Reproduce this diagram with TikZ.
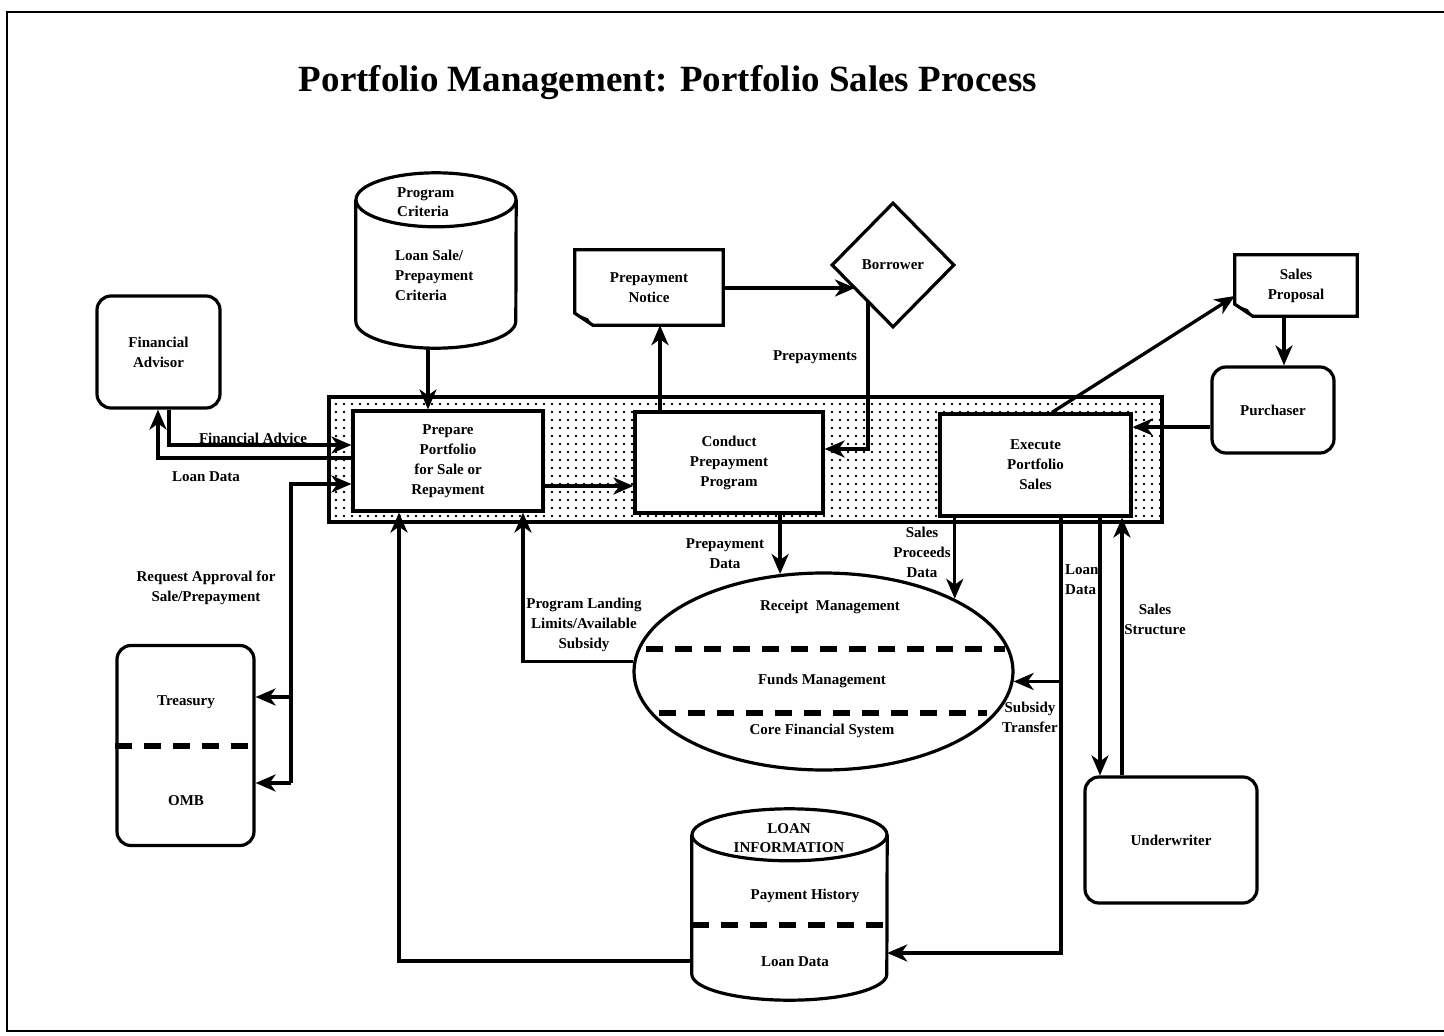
\documentclass[tikz,border=0pt]{standalone}
\usepackage{fontspec}
\setmainfont{Liberation Serif}
\usetikzlibrary{shapes.geometric,arrows.meta,patterns.meta,calc}
\newcommand\diaglbl{\fontsize{15}{20}\selectfont\bfseries}
\begin{document}
\begin{tikzpicture}[x=1pt,y=-1pt,
  box/.style={draw, line width=3.2pt, fill=white, align=center, inner sep=0, font=\diaglbl},
  rbox/.style={box, rounded corners=14pt},
  lbl/.style={font=\diaglbl, align=center, inner sep=0},
  conn/.style={line width=3.3pt},
  arr/.style={-{Stealth[length=20pt,width=17pt,inset=6pt]}},
  outl/.style={line width=3.2pt, line join=miter},
  dashsep/.style={line width=5.5pt, dash pattern=on 17pt off 12pt}]
\useasboundingbox (0,0) rectangle (1444,1036);
% frame
\draw[line width=1.8pt] (1444,12) -- (7,12) -- (7,1031) -- (1444,1031);
% title
\node[font=\fontsize{37}{44}\selectfont\bfseries, inner sep=0] (title) at (668,83) {Portfolio Management: Portfolio Sales Process};
% shaded band
\node[draw, line width=3.2pt, pattern={Dots[distance=8pt,radius=1.4pt]}, minimum width=833pt, minimum height=125pt, inner sep=0] (band) at (745.5,459.5) {};
% process boxes
\node[box, minimum width=190pt, minimum height=100pt] (prep) at (448,461) {Prepare\\Portfolio\\for Sale or\\Repayment};
\node[box, minimum width=188pt, minimum height=101pt] (cond) at (729,462.5) {Conduct\\Prepayment\\Program};
\node[box, minimum width=191pt, minimum height=102pt] (exec) at (1035.5,465) {Execute\\Portfolio\\Sales};
% external entities
\node[rbox, minimum width=123pt, minimum height=112pt] (fa) at (158.5,352) {Financial\\Advisor};
\node[rbox, minimum width=137pt, minimum height=200pt] (tob) at (185.5,745.5) {};
\draw[dashsep] (tob.west |- 0,746) -- (tob.east |- 0,746);
\node[lbl] (treas) at (186,702) {Treasury};
\node[lbl] (omb) at (186,801) {OMB};
\node[rbox, minimum width=122pt, minimum height=86pt] (pur) at (1273,410) {Purchaser};
\node[rbox, minimum width=172pt, minimum height=126pt] (uw) at (1171,840) {Underwriter};
\node[box, diamond, aspect=1, minimum width=123pt, minimum height=125pt] (bor) at (893,265) {Borrower};
% documents
\node[lbl, minimum width=148pt, minimum height=75pt] (pn) at (649,287.5) {Prepayment\\Notice};
\draw[outl] ($(pn.south west)+(0,-12)$) -- (pn.north west) -- (pn.north east) -- (pn.south east) -- ($(pn.south west)+(18,0)$) -- cycle;
\fill ($(pn.south west)+(0,-12)$) -- ($(pn.south west)+(13,-7)$) -- ($(pn.south west)+(18,0)$) -- cycle;
\node[lbl, minimum width=122pt, minimum height=61pt] (sp) at (1296,285.5) {Sales\\Proposal};
\draw[outl] ($(sp.south west)+(0,-12)$) -- (sp.north west) -- (sp.north east) -- (sp.south east) -- ($(sp.south west)+(18,0)$) -- cycle;
\fill ($(sp.south west)+(0,-12)$) -- ($(sp.south west)+(13,-7)$) -- ($(sp.south west)+(18,0)$) -- cycle;
% program criteria cylinder
\node[lbl, minimum width=160pt, minimum height=175pt] (pc) at (436,260.5) {};
\draw[outl] ($(pc.north west)+(0,27)$) -- ($(pc.south west)+(0,-27)$) arc[start angle=180,end angle=360,x radius=80pt,y radius=27pt] -- ($(pc.north east)+(0,27)$);
\draw[outl] ($(pc.north)+(0,27)$) ellipse[x radius=80pt,y radius=27pt];
\node[lbl, anchor=west, align=left, font=\fontsize{15}{19}\selectfont\bfseries] (pct) at (397,202.5) {Program\\Criteria};
\node[lbl, anchor=west, align=left] (pcb) at (395,275) {Loan Sale/\\Prepayment\\Criteria};
% loan information cylinder
\node[lbl, minimum width=195pt, minimum height=191pt] (li) at (789.5,904.5) {};
\draw[outl] ($(li.north west)+(0,26)$) -- ($(li.south west)+(0,-26)$) arc[start angle=180,end angle=360,x radius=97.5pt,y radius=26pt] -- ($(li.north east)+(0,26)$);
\draw[outl] ($(li.north)+(0,26)$) ellipse[x radius=97.5pt,y radius=26pt];
\node[lbl, font=\fontsize{15}{19}\selectfont\bfseries] (lit) at (789,838.5) {LOAN\\INFORMATION};
\node[lbl] (liph) at (805,896) {Payment History};
\draw[dashsep] (li.west |- 0,925) -- (li.east |- 0,925);
\node[lbl] (lild) at (795,962) {Loan Data};
% receipt management ellipse
\node[draw, ellipse, line width=3.2pt, minimum width=379pt, minimum height=197pt, inner sep=0] (rm) at (823.5,671.5) {};
\node[lbl] (rmr) at (830,607) {Receipt\ \ Management};
\node[lbl] (rmf) at (822,681) {Funds Management};
\node[lbl] (rmc) at (822,731) {Core Financial System};
\draw[dashsep] (646,649) -- (1005,649);
\draw[dashsep] (659,713) -- (987,713);
% connectors
\coordinate (fax) at (169,445);
\draw[conn,arr] (fa.south -| fax) -- (fax) -- (prep.west |- fax);
\coordinate (ldx) at (158,458);
\draw[conn,arr] (prep.west |- ldx) -- (ldx) -- (fa.south -| ldx);
\coordinate (rqtop) at (291,484);
\coordinate (rqt) at (291,697);
\coordinate (rqo) at (291,783);
\draw[conn,arr] (rqo) -- (rqtop) -- (prep.west |- rqtop);
\draw[conn,arr] (rqt) -- (tob.east |- rqt);
\draw[conn,arr] (rqo) -- (tob.east |- rqo);
\coordinate (pcx) at (428,0);
\draw[conn,arr] (pc.south -| pcx) -- (prep.north -| pcx);
\coordinate (pcy) at (0,486);
\draw[conn,arr] (prep.east |- pcy) -- (cond.west |- pcy);
\coordinate (pnx) at (660,0);
\draw[conn,arr] (cond.north -| pnx) -- (pn.south -| pnx);
\coordinate (pnb) at (855,288);
\draw[conn,arr] (pn.east |- pnb) -- (pnb);
\coordinate (bp) at (868,301);
\coordinate (bpc) at (868,449);
\draw[conn,arr] (bp) -- (bpc) -- (cond.east |- bpc);
\coordinate (exs) at (1052,0);
\coordinate (spy) at (0,296);
\draw[conn,arr] (exec.north -| exs) -- (sp.west |- spy);
\coordinate (spx) at (1284,0);
\draw[conn,arr] (sp.south -| spx) -- (pur.north -| spx);
\coordinate (pury) at (0,427);
\draw[conn,arr] (pur.west |- pury) -- (exec.east |- pury);
\draw[conn,arr] (cond.south -| rm.114) -- (rm.114);
\draw[conn,arr] (exec.south -| rm.29) -- (rm.29);
\coordinate (pll) at (523,0);
\draw[conn,arr] (rm.177) -- (pll |- rm.177) -- (prep.south -| pll);
\coordinate (lix) at (399,961);
\draw[conn,arr] (li.west |- lix) -- (lix) -- (prep.south -| lix);
\coordinate (subx) at (1061,953);
\draw[conn,arr] (exec.south -| subx) -- (subx) -- (li.east |- subx);
\draw[conn,arr] (subx |- rm.-3) -- (rm.-3);
\coordinate (ldu) at (1100,0);
\draw[conn,arr] (exec.south -| ldu) -- (uw.north -| ldu);
\coordinate (ssu) at (1122,0);
\draw[conn,arr] (uw.north -| ssu) -- (exec.south -| ssu);
% connector labels
\node[lbl] (lfa) at (253,438) {Financial Advice};
\node[lbl] (lld) at (206,477) {Loan Data};
\node[lbl] (lrq) at (206,588) {Request Approval for\\Sale/Prepayment};
\node[lbl] (lpp) at (815,357) {Prepayments};
\node[lbl] (lpd) at (725,554) {Prepayment\\Data};
\node[lbl] (lpl) at (584,625) {Program Landing\\Limits/Available\\Subsidy};
\node[lbl] (lsp) at (922,552) {Sales\\Proceeds\\Data};
\node[lbl, anchor=west, align=left] (lldu) at (1065,580) {Loan\\Data};
\node[lbl] (lss) at (1155,619) {Sales\\Structure};
\node[lbl] (lst) at (1030,717) {Subsidy\\Transfer};
\end{tikzpicture}
\end{document}
